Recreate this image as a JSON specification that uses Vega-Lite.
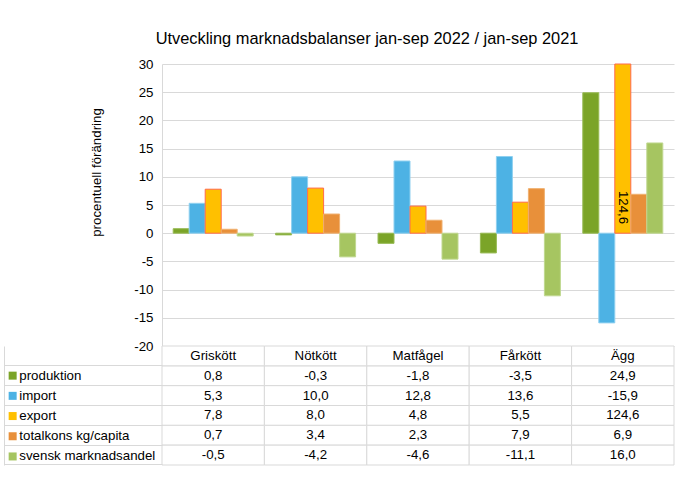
{
  "$schema": "https://vega.github.io/schema/vega-lite/v6.json",
  "padding": {"left": 3, "top": 30, "right": 5, "bottom": 5},
  "background": "white",
  "bounds": "flush",
  "spacing": 0,
  "config": {
    "font": "Liberation Sans",
    "view": {"stroke": null},
    "axis": {"labelFont": "Liberation Sans", "titleFont": "Liberation Sans"},
    "legend": {"labelFont": "Liberation Sans"}
  },
  "title": {
    "text": "Utveckling marknadsbalanser jan-sep 2022 / jan-sep 2021",
    "font": "Liberation Sans",
    "fontSize": 16.4,
    "fontWeight": "normal",
    "color": "#000000",
    "anchor": "middle",
    "frame": "group",
    "dx": -51,
    "offset": 10
  },
  "datasets": {
    "vals": [
      {"cat": "Griskött", "serie": "produktion", "value": 0.8},
      {"cat": "Griskött", "serie": "import", "value": 5.3},
      {"cat": "Griskött", "serie": "export", "value": 7.8},
      {"cat": "Griskött", "serie": "totalkons kg/capita", "value": 0.7},
      {"cat": "Griskött", "serie": "svensk marknadsandel", "value": -0.5},
      {"cat": "Nötkött", "serie": "produktion", "value": -0.3},
      {"cat": "Nötkött", "serie": "import", "value": 10.0},
      {"cat": "Nötkött", "serie": "export", "value": 8.0},
      {"cat": "Nötkött", "serie": "totalkons kg/capita", "value": 3.4},
      {"cat": "Nötkött", "serie": "svensk marknadsandel", "value": -4.2},
      {"cat": "Matfågel", "serie": "produktion", "value": -1.8},
      {"cat": "Matfågel", "serie": "import", "value": 12.8},
      {"cat": "Matfågel", "serie": "export", "value": 4.8},
      {"cat": "Matfågel", "serie": "totalkons kg/capita", "value": 2.3},
      {"cat": "Matfågel", "serie": "svensk marknadsandel", "value": -4.6},
      {"cat": "Fårkött", "serie": "produktion", "value": -3.5},
      {"cat": "Fårkött", "serie": "import", "value": 13.6},
      {"cat": "Fårkött", "serie": "export", "value": 5.5},
      {"cat": "Fårkött", "serie": "totalkons kg/capita", "value": 7.9},
      {"cat": "Fårkött", "serie": "svensk marknadsandel", "value": -11.1},
      {"cat": "Ägg", "serie": "produktion", "value": 24.9},
      {"cat": "Ägg", "serie": "import", "value": -15.9},
      {"cat": "Ägg", "serie": "export", "value": 124.6},
      {"cat": "Ägg", "serie": "totalkons kg/capita", "value": 6.9},
      {"cat": "Ägg", "serie": "svensk marknadsandel", "value": 16.0}
    ],
    "cats": [
      {"cat": "Griskött"}, {"cat": "Nötkött"}, {"cat": "Matfågel"}, {"cat": "Fårkött"}, {"cat": "Ägg"}
    ]
  },
  "resolve": {"scale": {"color": "independent"}, "legend": {"color": "independent"}},
  "vconcat": [
    {
      "width": 512,
      "height": 282,
      "data": {"name": "vals"},
      "transform": [
        {"calculate": "replace(replace(format(datum.value, '.1f'), '.', ','), '−', '-')", "as": "label"}
      ],
      "encoding": {
        "x": {
          "field": "cat", "type": "nominal",
          "sort": ["Griskött", "Nötkött", "Matfågel", "Fårkött", "Ägg"],
          "scale": {"paddingInner": 0, "paddingOuter": 0},
          "axis": null
        },
        "xOffset": {
          "field": "serie", "type": "nominal",
          "sort": ["produktion", "import", "export", "totalkons kg/capita", "svensk marknadsandel"],
          "scale": {"paddingInner": 0, "paddingOuter": 0.7}
        }
      },
      "layer": [
        {
          "mark": {"type": "bar", "strokeWidth": 1},
          "encoding": {
            "y": {
              "field": "value", "type": "quantitative",
              "scale": {"domain": [-20, 30], "clamp": true, "nice": false, "zero": true},
              "axis": {
                "title": "procentuell förändring",
                "values": [-20, -15, -10, -5, 0, 5, 10, 15, 20, 25, 30],
                "labelExpr": "'' + datum.value",
                "grid": true,
                "gridColor": "#D9D9D9",
                "domainColor": "#D9D9D9",
                "ticks": false,
                "labelPadding": 9,
                "labelFontSize": 13.3,
                "labelColor": "#000000",
                "titleFontSize": 13.3,
                "titleFontWeight": "normal",
                "titleColor": "#000000",
                "titlePadding": 30,
                "titleY": 108
              }
            },
            "color": {
              "field": "serie", "type": "nominal",
              "scale": {
                "domain": ["produktion", "import", "export", "totalkons kg/capita", "svensk marknadsandel"],
                "range": ["#7BA428", "#4DB2E4", "#FFC000", "#E8903A", "#A6C561"]
              },
              "legend": null
            },
            "stroke": {
              "field": "serie", "type": "nominal",
              "scale": {
                "domain": ["produktion", "import", "export", "totalkons kg/capita", "svensk marknadsandel"],
                "range": ["#98BB55", "#8FD0F0", "#FF6A4D", "#F0B070", "#C0D890"]
              },
              "legend": null
            }
          }
        },
        {
          "transform": [{"filter": "datum.value > 30"}],
          "mark": {"type": "text", "angle": 90, "align": "right", "baseline": "middle", "dx": -9, "fontSize": 13.3, "color": "#000000"},
          "encoding": {
            "y": {
              "datum": 0, "type": "quantitative",
              "axis": {
                "title": "procentuell förändring",
                "values": [-20, -15, -10, -5, 0, 5, 10, 15, 20, 25, 30],
                "labelExpr": "'' + datum.value",
                "grid": true,
                "gridColor": "#D9D9D9",
                "domainColor": "#D9D9D9",
                "ticks": false,
                "labelPadding": 9,
                "labelFontSize": 13.3,
                "labelColor": "#000000",
                "titleFontSize": 13.3,
                "titleFontWeight": "normal",
                "titleColor": "#000000",
                "titlePadding": 30,
                "titleY": 108
              }
            },
            "text": {"field": "label"}
          }
        }
      ]
    },
    {
      "width": 512,
      "height": 119,
      "encoding": {
        "x": {
          "field": "cat", "type": "nominal",
          "sort": ["Griskött", "Nötkött", "Matfågel", "Fårkött", "Ägg"],
          "scale": {"paddingInner": 0, "paddingOuter": 0},
          "axis": null
        }
      },
      "layer": [
        {
          "data": {"name": "vals"},
          "mark": {"type": "rect", "fill": "white", "stroke": "#D9D9D9", "strokeWidth": 1},
          "encoding": {
            "y": {
              "field": "serie", "type": "nominal",
              "scale": {
                "domain": ["hdr", "produktion", "import", "export", "totalkons kg/capita", "svensk marknadsandel"],
                "paddingInner": 0, "paddingOuter": 0
              },
              "axis": {
                "orient": "left",
                "title": null,
                "labels": false,
                "grid": false,
                "domain": true,
                "domainColor": "#D9D9D9",
                "ticks": true,
                "tickColor": "#D9D9D9",
                "tickSize": -158,
                "offset": 158,
                "bandPosition": 1,
                "tickExtra": false
              }
            }
          }
        },
        {
          "data": {"name": "cats"},
          "mark": {"type": "rect", "fill": "white", "stroke": "#D9D9D9", "strokeWidth": 1},
          "encoding": {"y": {"datum": "hdr", "type": "nominal"}}
        },
        {
          "data": {"name": "vals"},
          "transform": [
            {"calculate": "replace(replace(format(datum.value, '.1f'), '.', ','), '−', '-')", "as": "label"}
          ],
          "mark": {"type": "text", "fontSize": 13.3, "color": "#000000", "baseline": "middle"},
          "encoding": {
            "y": {"field": "serie", "type": "nominal"},
            "text": {"field": "label"}
          }
        },
        {
          "data": {"name": "cats"},
          "mark": {"type": "text", "fontSize": 13.3, "color": "#000000", "baseline": "middle"},
          "encoding": {
            "y": {"datum": "hdr", "type": "nominal"},
            "text": {"field": "cat"}
          }
        },
        {
          "data": {"name": "vals"},
          "mark": {"type": "square", "opacity": 0},
          "encoding": {
            "y": {"field": "serie", "type": "nominal"},
            "color": {
              "field": "serie", "type": "nominal",
              "scale": {
                "domain": ["produktion", "import", "export", "totalkons kg/capita", "svensk marknadsandel"],
                "range": ["#7BA428", "#4DB2E4", "#FFC000", "#E8903A", "#A6C561"]
              },
              "legend": {
                "orient": "none",
                "legendX": -156,
                "legendY": 23,
                "title": null,
                "padding": 0,
                "symbolType": "square",
                "symbolSize": 64,
                "symbolOpacity": 1,
                "symbolStrokeWidth": 0,
                "labelFontSize": 13.3,
                "labelColor": "#000000",
                "labelOffset": 0,
                "rowPadding": 6.2
              }
            }
          }
        }
      ]
    }
  ]
}
